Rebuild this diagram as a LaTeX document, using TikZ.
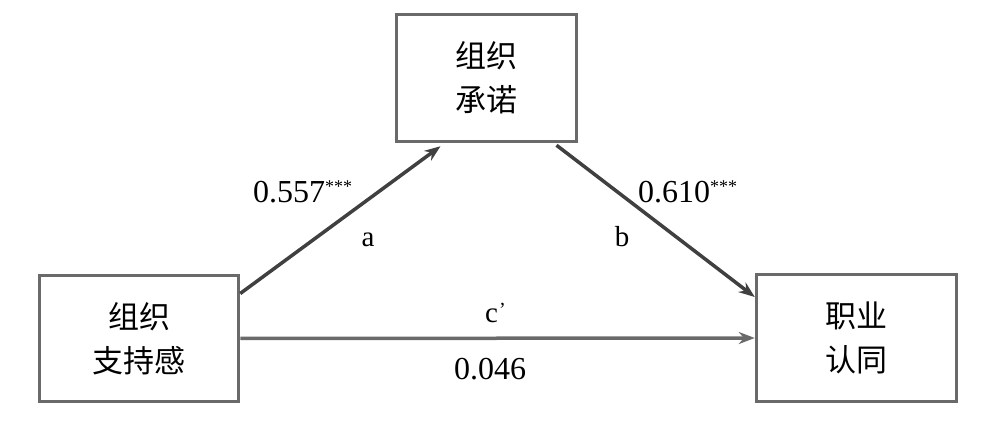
\documentclass[tikz,border=0pt]{standalone}
\usepackage{fontspec}
\setmainfont{Liberation Serif}
\newfontfamily\cjk{Noto Sans CJK SC}
\usetikzlibrary{arrows.meta}
\definecolor{boxgray}{HTML}{6A6A6A}
\definecolor{arrgray}{HTML}{404040}
\newcommand{\stars}{\raisebox{10pt}{\fontsize{18}{18}\selectfont ***}}
\begin{document}
\begin{tikzpicture}[x=1pt,y=-1pt,
  box/.style={draw=boxgray, line width=3.5pt, fill=white, align=center,
    font=\cjk\fontsize{31}{44}\selectfont, inner sep=0pt},
  arr/.style={draw=arrgray, line width=3.5pt, -{Stealth[length=16pt,width=12pt]}},
  lbl/.style={font=\fontsize{32}{36}\selectfont, inner sep=0pt, text=black},
  sm/.style={font=\fontsize{29}{32}\selectfont, inner sep=0pt, text=black}]
\useasboundingbox[fill=white] (0,0) rectangle (996,443);
\node[box, minimum width=199pt, minimum height=126pt] (L) at (139,338.5) {组织\\支持感};
\node[box, minimum width=200pt, minimum height=127pt] (R) at (856.5,338) {职业\\认同};
\node[box, minimum width=180pt, minimum height=127pt] (T) at (486.5,78) {组织\\承诺};
\draw[arr] ([yshift=45pt]L.east) -- ([xshift=-46pt,yshift=-3pt]T.south);
\draw[arr] ([xshift=70pt,yshift=-2pt]T.south) -- ([yshift=41pt]R.west);
\draw[arr, draw=boxgray] (L.east) -- (R.west);
\node[lbl, anchor=base west] (na) at (253,203) {0.557\stars};
\node[sm, anchor=base] (la) at (368,247) {a};
\node[lbl, anchor=base west] (nb) at (638,203) {0.610\stars};
\node[sm, anchor=base] (lb) at (622,247) {b};
\node[sm, anchor=base west] (lc) at (485,323) {c\kern1pt\raisebox{6pt}{\fontsize{20}{20}\selectfont ’}};
\node[lbl, anchor=base west] (nc) at (454,380) {0.046};
\end{tikzpicture}
\end{document}
